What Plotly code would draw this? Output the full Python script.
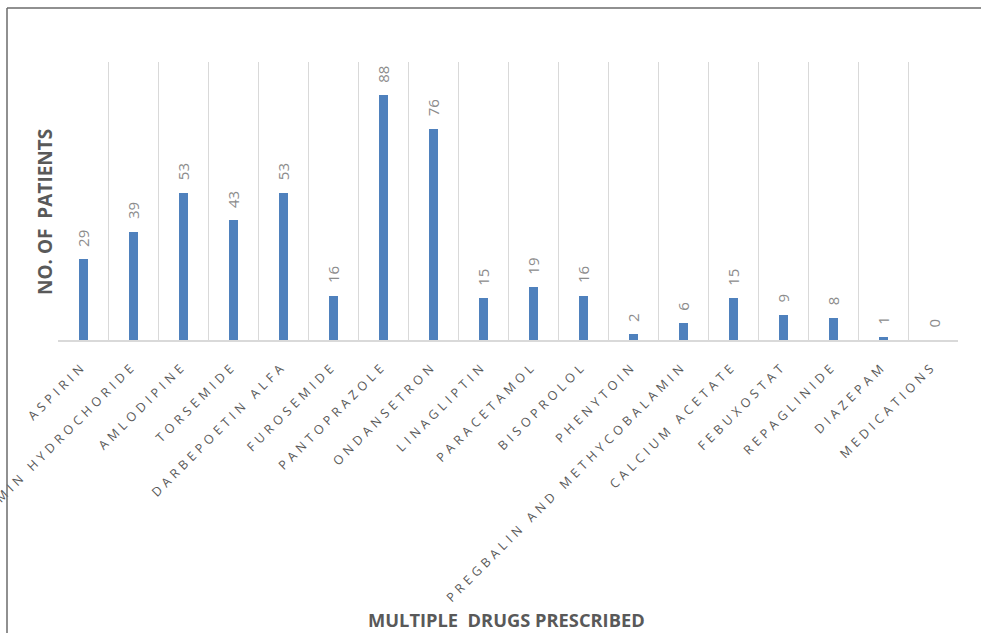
import plotly.graph_objects as go

drugs = ["ASPIRIN", "METFORMIN HYDROCHORIDE", "AMLODIPINE", "TORSEMIDE",
         "DARBEPOETIN ALFA", "FUROSEMIDE", "PANTOPRAZOLE", "ONDANSETRON",
         "LINAGLIPTIN", "PARACETAMOL", "BISOPROLOL", "PHENYTOIN",
         "PREGBALIN AND METHYCOBALAMIN", "CALCIUM ACETATE", "FEBUXOSTAT",
         "REPAGLINIDE", "DIAZEPAM", "MEDICATIONS"]
patients = [29, 39, 53, 43, 53, 16, 88, 76, 15, 19, 16, 2, 6, 15, 9, 8, 1, 0]

W, H = 981, 633
L, R, T, B = 58, 23, 62, 293
PW, PH = W - L - R, H - T - B


def px_x(px):
    return (px - L) / PW


def px_y(py):
    return (H - B - py) / PH


fig = go.Figure()
fig.add_trace(go.Bar(
    x=drugs, y=patients, width=0.18,
    marker=dict(color="#4F81BD", line=dict(width=0)),
    hoverinfo="x+y",
))

annotations = []
for d, v in zip(drugs, patients):
    annotations.append(dict(
        x=d, y=v, xref="x", yref="y", text=str(v), showarrow=False,
        textangle=-90, xanchor="center", yanchor="bottom", yshift=10,
        font=dict(family="Open Sans", size=15, color="#8c8c8c"),
    ))

annotations.append(dict(
    x=px_x(45), y=px_y(212), xref="paper", yref="paper",
    text="NO. OF\u00a0 PATIENTS", showarrow=False, textangle=-90,
    xanchor="center", yanchor="middle",
    font=dict(family="Open Sans", size=19, color="#595959", weight="bold"),
))
annotations.append(dict(
    x=px_x(506), y=px_y(619), xref="paper", yref="paper",
    text="MULTIPLE\u00a0 DRUGS PRESCRIBED", showarrow=False,
    xanchor="center", yanchor="middle",
    font=dict(family="Open Sans", size=18.3, color="#595959", weight="bold"),
))

shapes = [
    dict(type="line", xref="paper", yref="paper",
         x0=px_x(7), x1=px_x(990), y0=px_y(8), y1=px_y(8),
         line=dict(color="#6b6b6b", width=1.5)),
    dict(type="line", xref="paper", yref="paper",
         x0=px_x(7), x1=px_x(7), y0=px_y(8), y1=px_y(645),
         line=dict(color="#6b6b6b", width=1.5)),
]

fig.update_layout(
    width=W, height=H,
    margin=dict(l=L, r=R, t=T, b=B, autoexpand=False),
    paper_bgcolor="white", plot_bgcolor="white",
    showlegend=False,
    bargap=0,
    annotations=annotations,
    shapes=shapes,
    font=dict(family="Open Sans", color="#595959"),
)
fig.update_xaxes(
    type="category", tickson="boundaries", showgrid=True,
    gridcolor="#d9d9d9", gridwidth=1,
    showline=True, linecolor="#d9d9d9", linewidth=1.5,
    ticks="", ticklabelstandoff=12,
    tickangle=-45, automargin=False,
    tickfont=dict(family="Open Sans", size=12.5, color="#595959"),
)
fig.update_yaxes(range=[0, 100], visible=False, showgrid=False, fixedrange=True)

css = ("var s=document.createElement('style');"
       "s.textContent='.xtick text{letter-spacing:4.3px;}';"
       "document.head.appendChild(s);")
fig.write_html("out.html", post_script=css)
